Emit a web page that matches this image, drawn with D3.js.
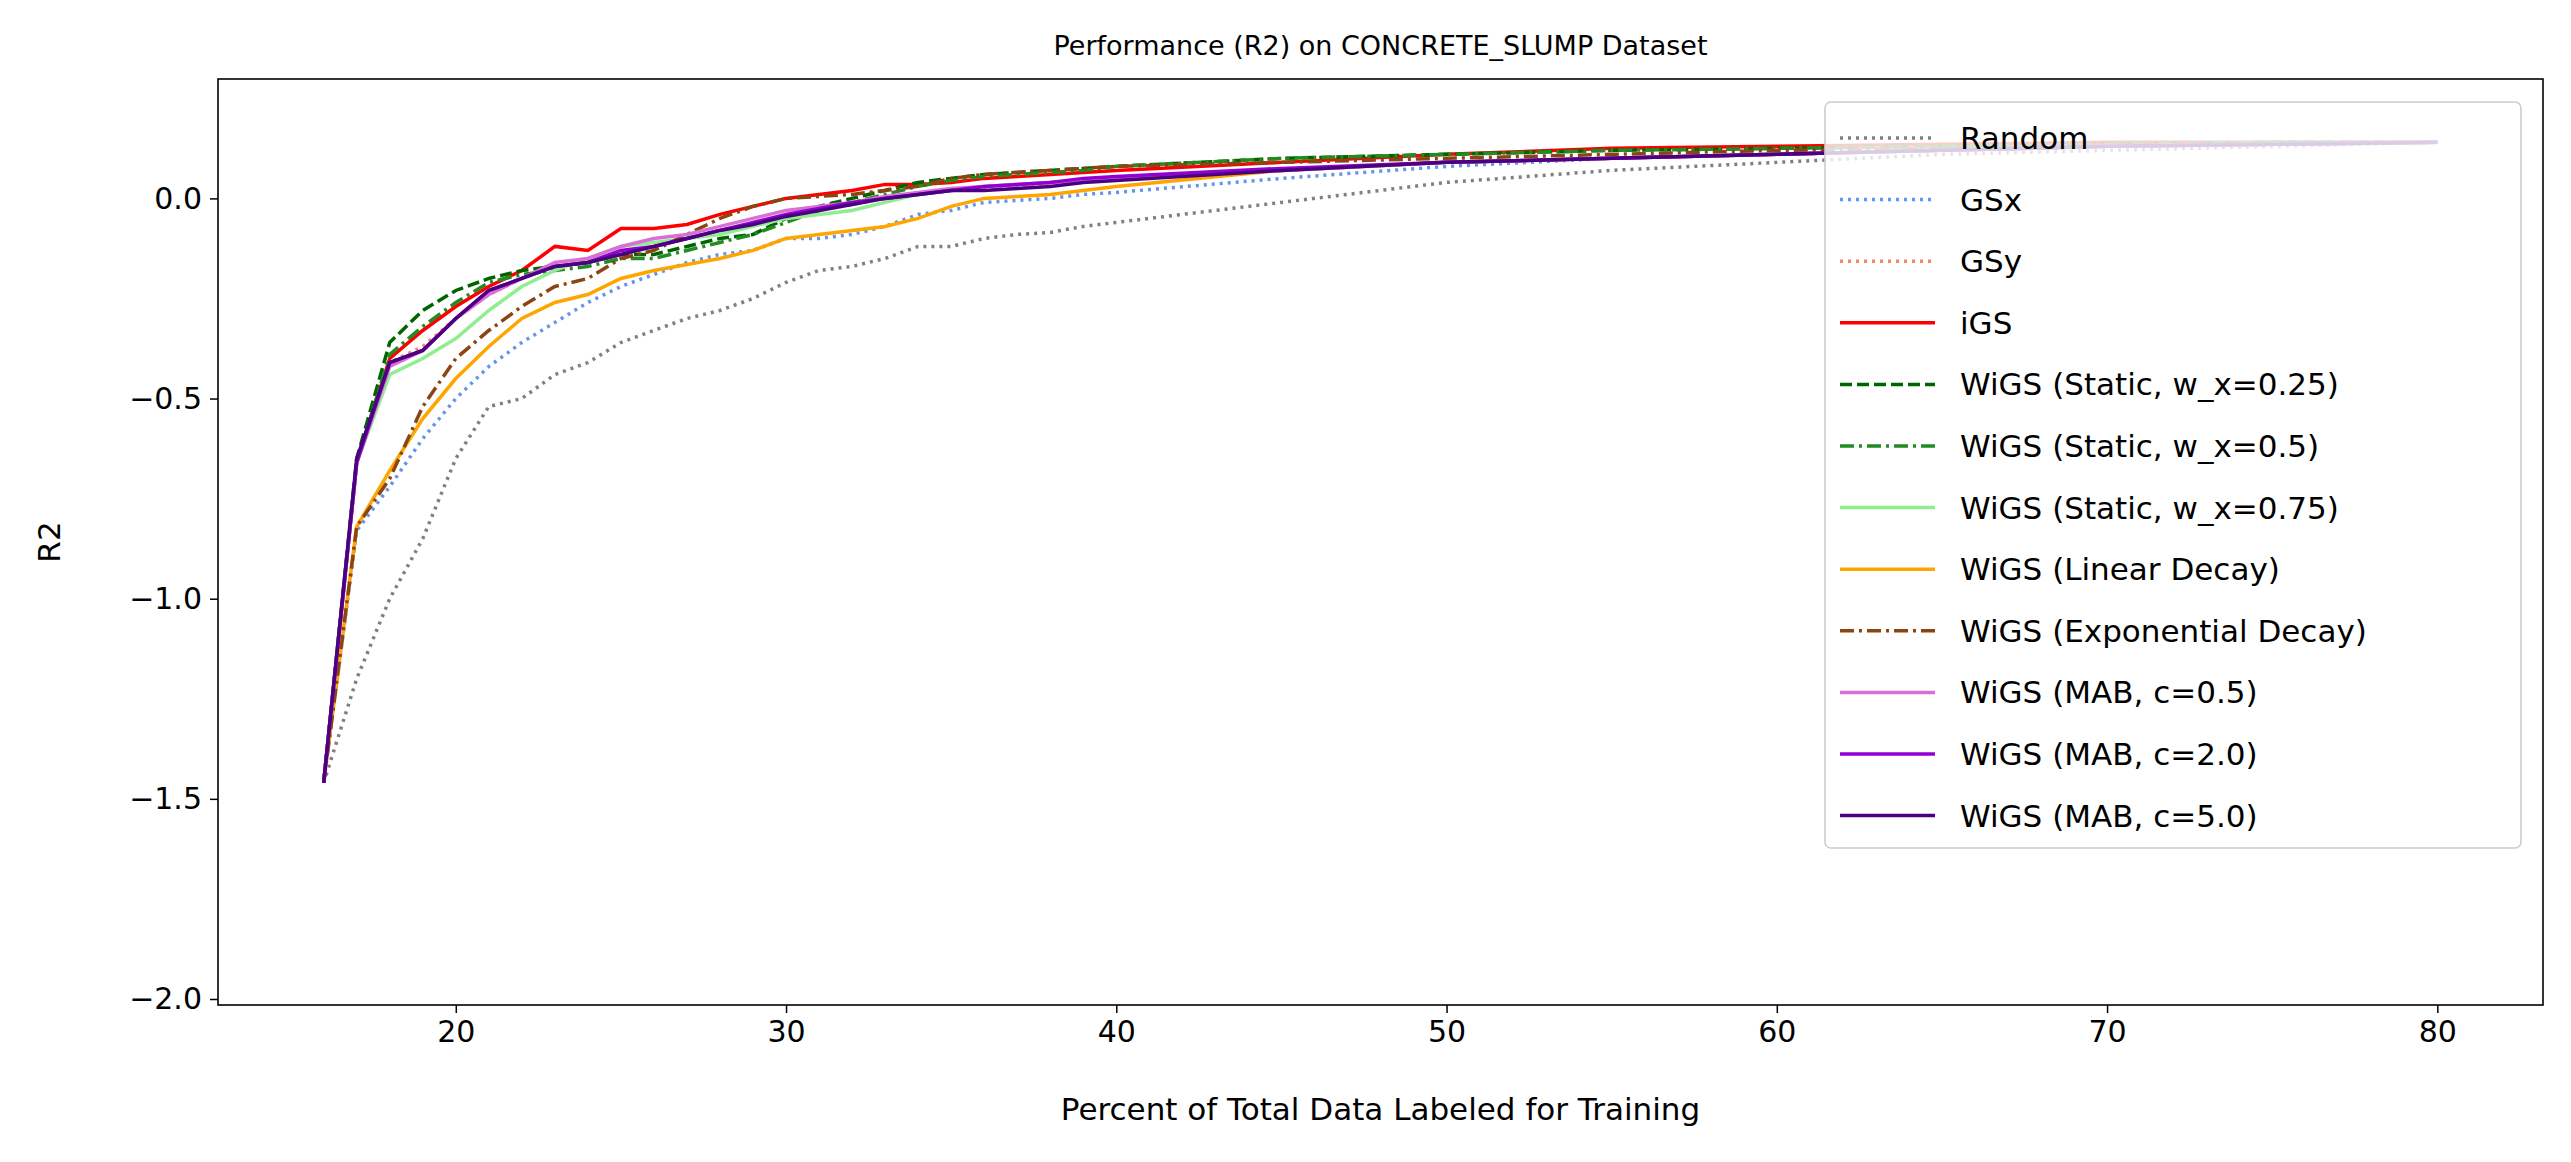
<!DOCTYPE html><html><head><meta charset="utf-8">
<script src="https://cdn.jsdelivr.net/npm/d3@7"></script>
<style>body{margin:0;background:#fff}text{font-family:"DejaVu Sans",sans-serif}</style></head><body>
<svg id="c" width="2571" height="1162"></svg>
<script>
const xs=[16,17,18,19,20,21,22,23,24,25,26,27,28,29,30,31,32,33,34,35,36,37,38,39,40,45,50,55,60,65,70,75,80];
const random=[-1.46,-1.2,-1.0,-0.85,-0.65,-0.52,-0.5,-0.44,-0.41,-0.36,-0.33,-0.3,-0.28,-0.25,-0.21,-0.18,-0.17,-0.15,-0.12,-0.12,-0.1,-0.09,-0.085,-0.07,-0.06,-0.01,0.04,0.07,0.09,0.11,0.12,0.13,0.14];
const gsx=[-1.46,-0.83,-0.72,-0.6,-0.5,-0.42,-0.36,-0.31,-0.26,-0.22,-0.19,-0.16,-0.14,-0.13,-0.1,-0.1,-0.09,-0.07,-0.04,-0.03,-0.01,-0.005,0,0.01,0.015,0.05,0.08,0.1,0.11,0.12,0.13,0.135,0.14];
const gsy=[-1.46,-0.66,-0.41,-0.37,-0.3,-0.24,-0.2,-0.17,-0.16,-0.14,-0.12,-0.1,-0.08,-0.065,-0.045,-0.03,-0.015,0,0.01,0.02,0.025,0.03,0.035,0.04,0.05,0.07,0.09,0.1,0.11,0.12,0.13,0.135,0.14];
const igs=[-1.46,-0.66,-0.4,-0.33,-0.27,-0.22,-0.18,-0.12,-0.13,-0.075,-0.075,-0.065,-0.04,-0.02,0,0.01,0.02,0.035,0.035,0.04,0.05,0.055,0.06,0.065,0.07,0.09,0.11,0.125,0.13,0.135,0.14,0.14,0.14];
const s25=[-1.46,-0.65,-0.36,-0.28,-0.23,-0.2,-0.18,-0.17,-0.16,-0.14,-0.14,-0.12,-0.1,-0.09,-0.05,-0.02,0,0.02,0.04,0.05,0.06,0.065,0.07,0.075,0.08,0.1,0.11,0.12,0.125,0.13,0.135,0.14,0.14];
const s50=[-1.46,-0.66,-0.39,-0.32,-0.26,-0.21,-0.19,-0.18,-0.17,-0.15,-0.15,-0.13,-0.11,-0.09,-0.06,-0.03,-0.01,0.01,0.03,0.045,0.055,0.06,0.065,0.07,0.08,0.1,0.11,0.12,0.125,0.13,0.135,0.14,0.14];
const s75=[-1.46,-0.66,-0.44,-0.4,-0.35,-0.28,-0.22,-0.18,-0.15,-0.12,-0.11,-0.1,-0.09,-0.07,-0.05,-0.04,-0.03,-0.01,0.01,0.02,0.03,0.035,0.04,0.045,0.05,0.07,0.09,0.1,0.11,0.12,0.13,0.135,0.14];
const lin=[-1.46,-0.82,-0.68,-0.55,-0.45,-0.37,-0.3,-0.26,-0.24,-0.2,-0.18,-0.165,-0.15,-0.13,-0.1,-0.09,-0.08,-0.07,-0.05,-0.02,0,0.005,0.01,0.02,0.03,0.07,0.09,0.1,0.11,0.12,0.13,0.135,0.14];
const expd=[-1.46,-0.82,-0.7,-0.52,-0.4,-0.33,-0.27,-0.22,-0.2,-0.15,-0.13,-0.09,-0.05,-0.02,0,0.005,0.01,0.02,0.03,0.05,0.06,0.065,0.07,0.075,0.08,0.09,0.1,0.11,0.12,0.125,0.13,0.135,0.14];
const m05=[-1.46,-0.66,-0.42,-0.38,-0.3,-0.24,-0.2,-0.16,-0.15,-0.12,-0.1,-0.09,-0.07,-0.05,-0.03,-0.02,-0.01,0.005,0.015,0.025,0.03,0.035,0.04,0.045,0.05,0.07,0.09,0.1,0.11,0.12,0.13,0.135,0.14];
const m20=[-1.46,-0.66,-0.41,-0.38,-0.3,-0.23,-0.2,-0.17,-0.16,-0.13,-0.12,-0.1,-0.08,-0.06,-0.04,-0.025,-0.01,0,0.01,0.02,0.03,0.035,0.04,0.05,0.055,0.075,0.09,0.1,0.11,0.12,0.13,0.135,0.14];
const m50=[-1.46,-0.65,-0.41,-0.38,-0.3,-0.23,-0.2,-0.17,-0.16,-0.14,-0.12,-0.1,-0.08,-0.065,-0.045,-0.03,-0.015,0,0.01,0.02,0.02,0.025,0.03,0.04,0.045,0.07,0.09,0.1,0.11,0.12,0.13,0.135,0.14];
const series=[
 ["Random",random,"#808080","3,5"],["GSx",gsx,"#6495ed","3,5"],["GSy",gsy,"#fa8072","3,5"],["iGS",igs,"#ff0000",null],
 ["WiGS (Static, w_x=0.25)",s25,"#006400","12,5"],["WiGS (Static, w_x=0.5)",s50,"#228b22","14,5,3,5"],
 ["WiGS (Static, w_x=0.75)",s75,"#90ee90",null],["WiGS (Linear Decay)",lin,"#ffa500",null],
 ["WiGS (Exponential Decay)",expd,"#8b4513","14,5,3,5"],["WiGS (MAB, c=0.5)",m05,"#da70d6",null],
 ["WiGS (MAB, c=2.0)",m20,"#9400d3",null],["WiGS (MAB, c=5.0)",m50,"#4b0082",null]];
const xTicks=[20,30,40,50,60,70,80], yTicks=[0,-0.5,-1,-1.5,-2];
const svg=d3.select("#c");
const L=218,R=2543,T=79,B=1005;
const x=d3.scaleLinear().domain([12.8,83.2]).range([L,R]);
const y=d3.scaleLinear().domain([-2,0]).range([999,198.4]);
const fmt=v=>(v===0?"0.0":d3.format(".1f")(v).replace("-","\u2212"));
const gx=svg.append("g").attr("transform",`translate(0,${B})`).call(d3.axisBottom(x).tickValues(xTicks).tickSize(8).tickPadding(8));
const gy=svg.append("g").attr("transform",`translate(${L},0)`).call(d3.axisLeft(y).tickValues(yTicks).tickFormat(fmt).tickSize(8).tickPadding(8));
[gx,gy].forEach(g=>{g.selectAll("text").attr("font-size",30).attr("fill","#000");g.select(".domain").remove();g.selectAll("line").attr("stroke-width",1.5);});
svg.append("clipPath").attr("id","cp").append("rect").attr("x",L).attr("y",T).attr("width",R-L).attr("height",B-T);
const line=d3.line().x((d,i)=>x(xs[i])).y(d=>y(d));
const pg=svg.append("g").attr("clip-path","url(#cp)");
series.forEach(s=>pg.append("path").attr("d",line(s[1])).attr("fill","none").attr("stroke",s[2]).attr("stroke-width",3.5).attr("stroke-dasharray",s[3]));
svg.append("rect").attr("x",L).attr("y",T).attr("width",R-L).attr("height",B-T).attr("fill","none").attr("stroke","#000").attr("stroke-width",1.6);
svg.append("text").attr("x",(L+R)/2).attr("y",55).attr("text-anchor","middle").attr("font-size",27).text("Performance (R2) on CONCRETE_SLUMP Dataset");
svg.append("text").attr("x",(L+R)/2).attr("y",1120).attr("text-anchor","middle").attr("font-size",31).text("Percent of Total Data Labeled for Training");
svg.append("text").attr("transform",`translate(60,${(T+B)/2}) rotate(-90)`).attr("text-anchor","middle").attr("font-size",31).text("R2");
const lg=svg.append("g");
lg.append("rect").attr("x",1825).attr("y",102).attr("width",696).attr("height",746).attr("rx",6).attr("fill","#fff").attr("fill-opacity",0.8).attr("stroke","#ccc").attr("stroke-width",1.6);
series.forEach((s,i)=>{const yy=138+i*61.6;
 lg.append("line").attr("x1",1840).attr("x2",1935).attr("y1",yy).attr("y2",yy).attr("stroke",s[2]).attr("stroke-width",3.5).attr("stroke-dasharray",s[3]);
 lg.append("text").attr("x",1960).attr("y",yy+11).attr("font-size",31).text(s[0]);});
</script></body></html>
